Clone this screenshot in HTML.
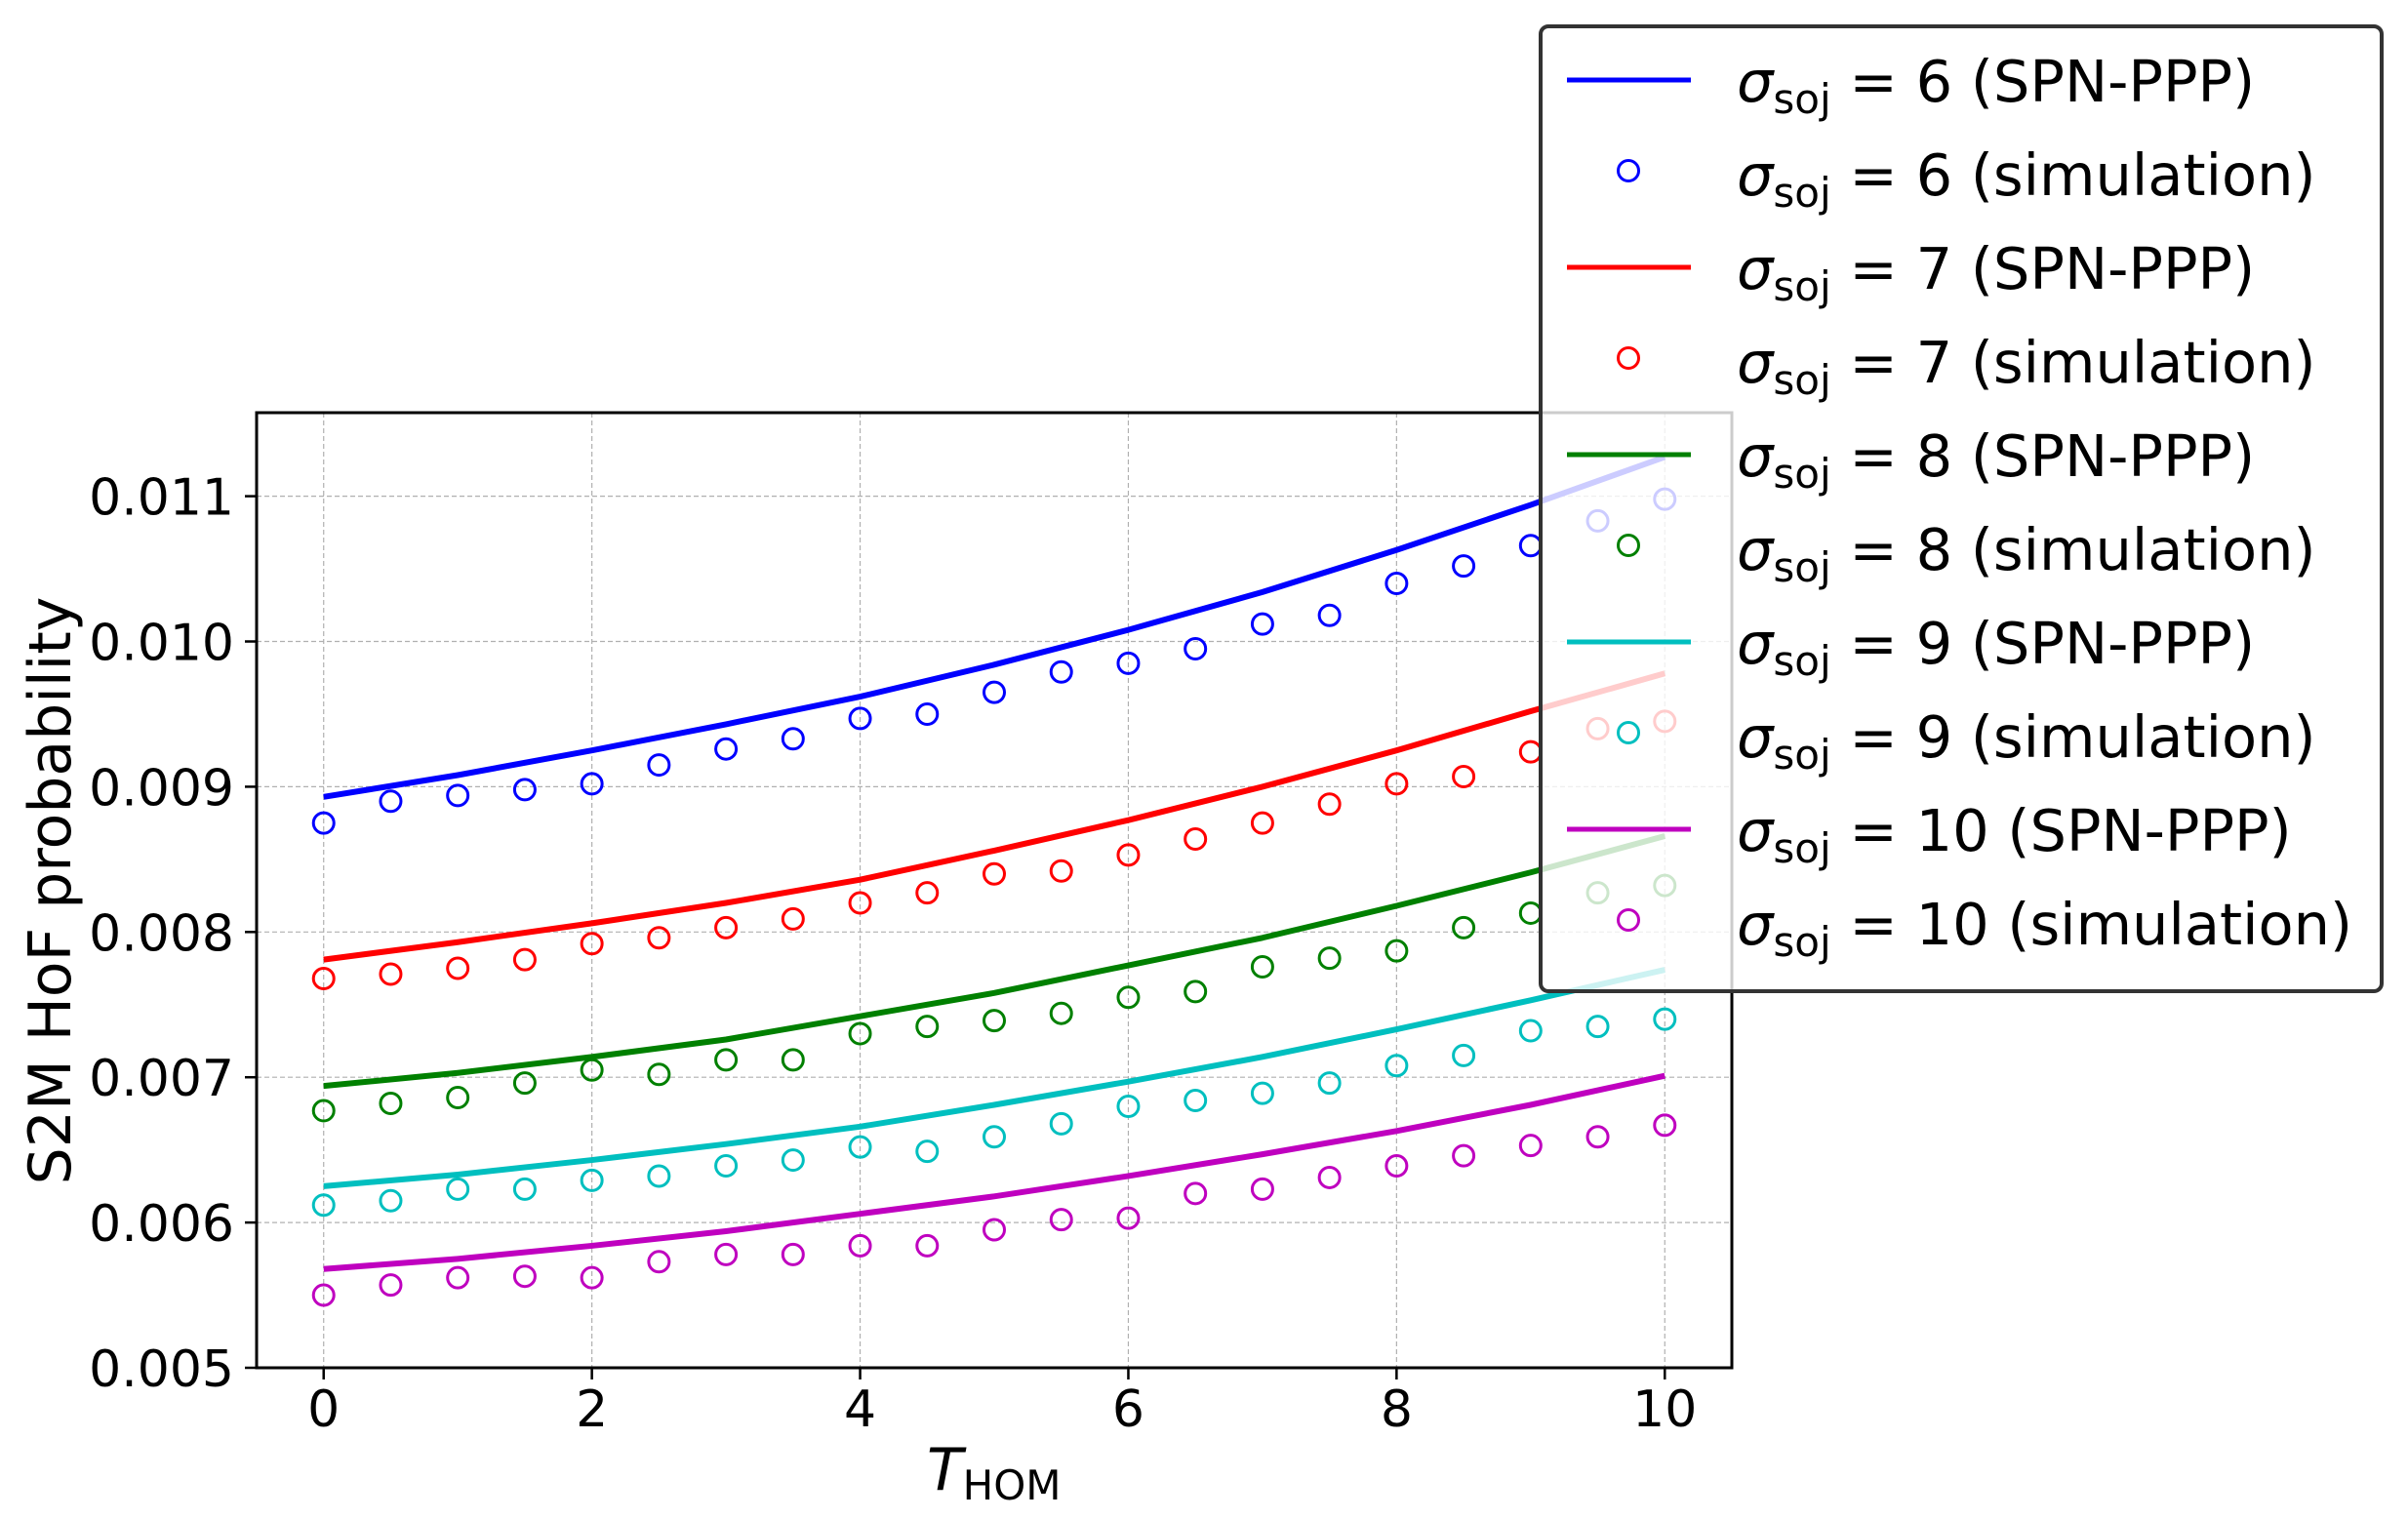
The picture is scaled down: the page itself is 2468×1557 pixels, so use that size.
<!DOCTYPE html>
<html><head><meta charset="utf-8"><style>
html,body{margin:0;padding:0;background:#fff;}
svg{display:block;font-family:"DejaVu Sans","Liberation Sans",sans-serif;}
</style></head><body>
<svg id="chart" width="2468" height="1557" viewBox="0 0 2468 1557" xmlns="http://www.w3.org/2000/svg">
<rect width="2468" height="1557" fill="#fff"/>
<g id="grid"></g>
<g id="series"></g>
<g id="axes"></g>
<text transform="translate(72,913) rotate(-90)" text-anchor="middle" font-size="60">S2M HoF probability</text>
<text x="950" y="1527" font-size="60"><tspan font-style="italic">T</tspan><tspan font-size="42" dy="10">HOM</tspan></text>
<g id="legend"></g>
</svg>
<script>
const xValues=[0,0.5,1,1.5,2,2.5,3,3.5,4,4.5,5,5.5,6,6.5,7,7.5,8,8.5,9,9.5,10];
const lineX=[0,1,2,3,4,5,6,7,8,9,10];
const sigmas=[6,7,8,9,10];
const colors=['#0000ff','#ff0000','#008000','#00bfbf','#bf00bf'];
const line6=[0.00893,0.00908,0.00925,0.00943,0.00962,0.00984,0.01008,0.01034,0.01063,0.01094,0.01127];
const line7=[0.00781,0.00793,0.00806,0.0082,0.00836,0.00856,0.00877,0.009,0.00925,0.00952,0.00978];
const line8=[0.00694,0.00703,0.00714,0.00726,0.00742,0.00758,0.00777,0.00796,0.00818,0.00841,0.00866];
const line9=[0.00625,0.00633,0.00643,0.00654,0.00666,0.00681,0.00697,0.00714,0.00733,0.00753,0.00774];
const line10=[0.00568,0.00575,0.00584,0.00594,0.00606,0.00618,0.00632,0.00647,0.00663,0.00681,0.00701];
const sim6=[0.00875,0.0089,0.00894,0.00898,0.00902,0.00915,0.00926,0.00933,0.00947,0.0095,0.00965,0.00979,0.00985,0.00995,0.01012,0.01018,0.0104,0.01052,0.01066,0.01083,0.01098];
const sim7=[0.00768,0.00771,0.00775,0.00781,0.00792,0.00796,0.00803,0.00809,0.0082,0.00827,0.0084,0.00842,0.00853,0.00864,0.00875,0.00888,0.00902,0.00907,0.00924,0.0094,0.00945];
const sim8=[0.00677,0.00682,0.00686,0.00696,0.00705,0.00702,0.00712,0.00712,0.0073,0.00735,0.00739,0.00744,0.00755,0.00759,0.00776,0.00782,0.00787,0.00803,0.00813,0.00827,0.00832];
const sim9=[0.00612,0.00615,0.00623,0.00623,0.00629,0.00632,0.00639,0.00643,0.00652,0.00649,0.00659,0.00668,0.0068,0.00684,0.00689,0.00696,0.00708,0.00715,0.00732,0.00735,0.0074];
const sim10=[0.0055,0.00557,0.00562,0.00563,0.00562,0.00573,0.00578,0.00578,0.00584,0.00584,0.00595,0.00602,0.00603,0.0062,0.00623,0.00631,0.00639,0.00646,0.00653,0.00659,0.00667];
const xTicks=[0,2,4,6,8,10];
const yTicks=[0.005,0.006,0.007,0.008,0.009,0.010,0.011];
const yTickLabels=['0.005','0.006','0.007','0.008','0.009','0.010','0.011'];

const lines=[line6,line7,line8,line9,line10];
const sims=[sim6,sim7,sim8,sim9,sim10];
const L=263,R=1775,T=423,B=1402;
const xMin=-0.5,xMax=10.5,yMin=0.005,yMax=0.011575;
function sx(v){return L+(v-xMin)/(xMax-xMin)*(R-L);}
function sy(v){return B-(v-yMin)/(yMax-yMin)*(B-T);}
const NS='http://www.w3.org/2000/svg';
function mk(tag,attrs,parent){const e=document.createElementNS(NS,tag);for(const k in attrs)e.setAttribute(k,attrs[k]);parent.appendChild(e);return e;}
const grid=document.getElementById('grid'),axes=document.getElementById('axes'),ser=document.getElementById('series'),leg=document.getElementById('legend');
xTicks.forEach(t=>{
  const g=mk('line',{x1:sx(t),x2:sx(t),y1:T,y2:B,stroke:'#b0b0b0','stroke-width':1.2,'stroke-dasharray':'5,3'},grid);
  
  
  const tk=mk('line',{x1:sx(t),x2:sx(t),y1:B,y2:B+12,stroke:'#000','stroke-width':2.5},axes);
  
  
  const tx=mk('text',{x:sx(t),y:1462,'text-anchor':'middle','font-size':52},axes);
  tx.textContent=t;
  
  
});
yTicks.forEach((t,i)=>{
  const g=mk('line',{x1:L,x2:R,y1:sy(t),y2:sy(t),stroke:'#b0b0b0','stroke-width':1.2,'stroke-dasharray':'5,3'},grid);
  
  
  const tk=mk('line',{x1:L-12,x2:L,y1:sy(t),y2:sy(t),stroke:'#000','stroke-width':2.5},axes);
  
  
  const tx=mk('text',{x:240,y:sy(t)+19,'text-anchor':'end','font-size':52},axes);
  tx.textContent=yTickLabels[i];
  
  
});
const frame=mk('rect',{x:L,y:T,width:R-L,height:B-T,fill:'none',stroke:'#000','stroke-width':3},axes);


lines.forEach((arr,i)=>{
  const pts=arr.map((v,j)=>sx(lineX[j])+','+sy(v)).join(' ');
  const p=mk('polyline',{points:pts,fill:'none',stroke:colors[i],'stroke-width':6,'stroke-linejoin':'round'},ser);
  
  
});
sims.forEach((arr,i)=>{
  arr.forEach((v,j)=>{
    const c=mk('circle',{cx:sx(xValues[j]),cy:sy(v),r:10.5,fill:'none',stroke:colors[i],'stroke-width':3},ser);
    
    
  });
});
const box=mk('rect',{x:1579,y:27,width:862,height:989,rx:8,fill:'rgba(255,255,255,0.8)',stroke:'#333','stroke-width':4},leg);


for(let k=0;k<10;k++){
  const i=Math.floor(k/2),isLine=k%2===0,y=82+96*k;
  if(isLine){
    const l=mk('line',{x1:1606,x2:1733,y1:y,y2:y,stroke:colors[i],'stroke-width':5},leg);
    
    
  }else{
    const c=mk('circle',{cx:1669,cy:y-3,r:10.5,fill:'none',stroke:colors[i],'stroke-width':3},leg);
    
    
  }
  const t=mk('text',{x:1780,y:y+22,'font-size':59},leg);
  
  
  const s1=mk('tspan',{'font-style':'italic'},t);s1.textContent='σ';
  const s2=mk('tspan',{'font-size':42,dy:12},t);s2.textContent='soj';
  const s3=mk('tspan',{dy:-12},t);s3.textContent=' = '+sigmas[i]+(isLine?' (SPN-PPP)':' (simulation)');
}
</script>
</body></html>
